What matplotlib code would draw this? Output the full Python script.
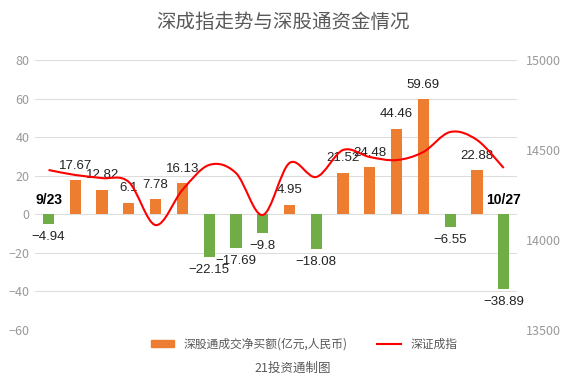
import numpy as np
import matplotlib.pyplot as plt
from matplotlib.path import Path
from matplotlib.patches import PathPatch, Patch
from matplotlib.lines import Line2D

plt.rcParams['font.family'] = ['Noto Sans CJK SC', 'DejaVu Sans']

# net buy of Shenzhen connect (100M CNY)
flows = [-4.94, 17.67, 12.82, 6.1, 7.78, 16.13, -22.15, -17.69, -9.8,
         4.95, -18.08, 21.52, 24.48, 44.46, 59.69, -6.55, 22.88, -38.89]
# Shenzhen component index
index = [14389, 14361, 14344, 14322, 14083, 14278, 14417, 14372, 14139,
         14428, 14350, 14500, 14461, 14444, 14489, 14600, 14556, 14400]
first_date, last_date = "9/23", "10/27"

orange = "#ED7D31"
green = "#70AD47"
grey = "#999999"

fig = plt.figure(figsize=(5.67, 3.82), dpi=100)
ax = fig.add_axes([0.062, 0.136, 0.850, 0.707])
ax2 = ax.twinx()

x = np.arange(len(flows))
colors = [orange if v >= 0 else green for v in flows]
ax.bar(x, flows, width=0.42, color=colors, zorder=2)

ax.set_ylim(-60, 80)
ax.set_yticks(range(-60, 81, 20))
ax.set_xlim(-0.5, len(flows) - 0.5)
ax.set_xticks([])
ax.grid(axis='y', color='#dddddd', linewidth=0.8, zorder=0)
ax.set_axisbelow(True)
ax.tick_params(axis='y', length=0, colors=grey, labelsize=9, pad=4)

ax2.set_ylim(13500, 15000)
ax2.set_yticks([13500, 14000, 14500, 15000])
ax2.tick_params(axis='y', length=0, colors=grey, labelsize=9, pad=6)

for a in (ax, ax2):
    for s in a.spines.values():
        s.set_visible(False)

# smooth line through index points (Catmull-Rom as bezier segments)
pts = np.column_stack([x, index]).astype(float)
verts = [pts[0]]
codes = [Path.MOVETO]
n = len(pts)
for i in range(n - 1):
    p0 = pts[max(i - 1, 0)]
    p1 = pts[i]
    p2 = pts[i + 1]
    p3 = pts[min(i + 2, n - 1)]
    c1 = p1 + (p2 - p0) / 6
    c2 = p2 - (p3 - p1) / 6
    verts += [c1, c2, p2]
    codes += [Path.CURVE4] * 3
ax2.add_patch(PathPatch(Path(verts, codes), fill=False, edgecolor='red',
                        linewidth=1.5, zorder=3))

# value labels
num_font = ['Liberation Sans', 'DejaVu Sans']
for xi, v in zip(x, flows):
    txt = f"{v:g}".replace('-', '\u2212')
    off = 6 if v >= 0 else -5
    ax.annotate(txt, (xi, v), xytext=(0, off), textcoords='offset points',
                ha='center', va='bottom' if v >= 0 else 'top',
                fontsize=9.5, color='#222222', family=num_font, zorder=5)

ax.annotate(first_date, (0, 0), xytext=(0, 5), textcoords='offset points',
            ha='center', va='bottom', fontsize=10, fontweight='bold',
            family=num_font)
ax.annotate(last_date, (len(flows) - 1, 0), xytext=(0, 5), textcoords='offset points',
            ha='center', va='bottom', fontsize=10, fontweight='bold',
            family=num_font)

fig.text(0.5, 0.94, "深成指走势与深股通资金情况", ha='center', va='center',
         fontsize=14, color='#595959')

handles = [Patch(color=orange), Line2D([], [], color='red', linewidth=1.5)]
fig.legend(handles, ["深股通成交净买额(亿元,人民币)", "深证成指"],
           loc='center', bbox_to_anchor=(0.536, 0.099), ncol=2, frameon=False,
           fontsize=8.5, handlelength=2.0, handleheight=0.6, columnspacing=2.5,
           labelcolor='#595959')
fig.text(0.516, 0.037, "21投资通制图", ha='center', va='center',
         fontsize=9, color='#595959')

fig.savefig("out.png", dpi=100)
